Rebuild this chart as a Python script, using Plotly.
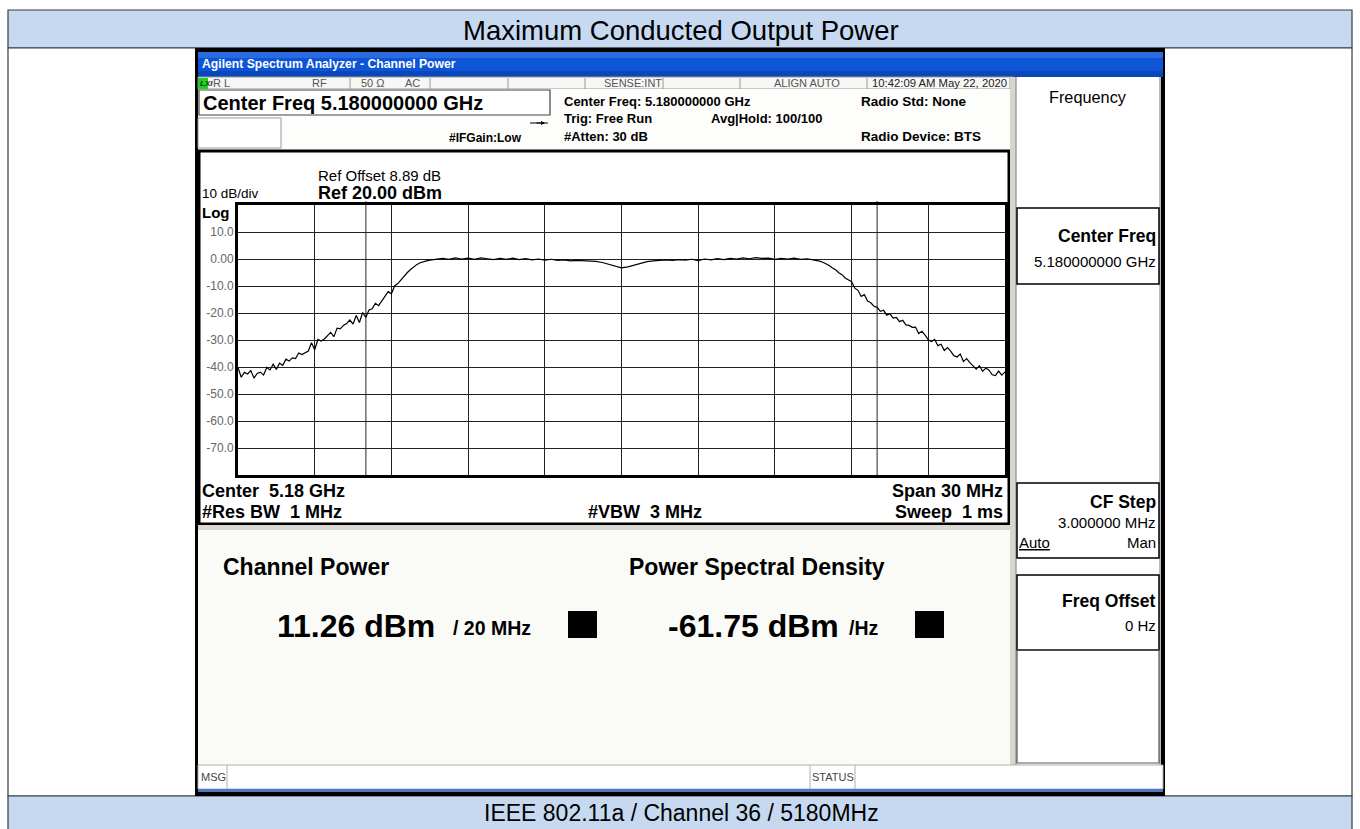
import plotly.graph_objects as go

# ---------------- data ----------------
SPAN_MHZ = 30.0
# left skirt (0.125 MHz steps), occupied band (0.25 MHz steps), right skirt (0.125 MHz steps)
freq_offset_mhz = [
    -15.000, -14.875, -14.750, -14.625, -14.500, -14.375, -14.250, -14.125, -14.000, -13.875,
    -13.750, -13.625, -13.500, -13.375, -13.250, -13.125, -13.000, -12.875, -12.750, -12.625,
    -12.500, -12.375, -12.250, -12.125, -12.000, -11.875, -11.750, -11.625, -11.500, -11.375,
    -11.250, -11.125, -11.000, -10.875, -10.750, -10.625, -10.500, -10.375, -10.250, -10.125,
    -10.000, -9.875, -9.750, -9.625, -9.500, -9.375, -9.250, -9.125, -9.000, -8.875,
    -8.750, -8.625, -8.500, -8.375, -8.250, -8.125, -8.000, -7.875, -7.750, -7.625,
    -7.500,
    -7.25, -7.00, -6.75, -6.50, -6.25, -6.00, -5.75, -5.50, -5.25, -5.00,
    -4.75, -4.50, -4.25, -4.00, -3.75, -3.50, -3.25, -3.00, -2.75, -2.50,
    -2.25, -2.00, -1.75, -1.50, -1.25, -1.00, -0.75, -0.50, -0.25, 0.00,
    0.25, 0.50, 0.75, 1.00, 1.25, 1.50, 1.75, 2.00, 2.25, 2.50,
    2.75, 3.00, 3.25, 3.50, 3.75, 4.00, 4.25, 4.50, 4.75, 5.00,
    5.25, 5.50, 5.75, 6.00, 6.25, 6.50, 6.75, 7.00, 7.25,
    7.500, 7.625, 7.750, 7.875, 8.000, 8.125, 8.250, 8.375, 8.500, 8.625,
    8.750, 8.875, 9.000, 9.125, 9.250, 9.375, 9.500, 9.625, 9.750, 9.875,
    10.000, 10.125, 10.250, 10.375, 10.500, 10.625, 10.750, 10.875, 11.000, 11.125,
    11.250, 11.375, 11.500, 11.625, 11.750, 11.875, 12.000, 12.125, 12.250, 12.375,
    12.500, 12.625, 12.750, 12.875, 13.000, 13.125, 13.250, 13.375, 13.500, 13.625,
    13.750, 13.875, 14.000, 14.125, 14.250, 14.375, 14.500, 14.625, 14.750, 14.875,
    15.000,
]
level_dbm = [
    -40.2, -43.8, -42.0, -42.6, -41.3, -44.1, -42.4, -41.9, -43.0, -40.2,
    -41.1, -39.0, -40.9, -38.6, -39.4, -37.1, -37.8, -36.6, -36.9, -34.8,
    -35.4, -34.9, -34.1, -31.0, -33.6, -29.8, -30.4, -29.6, -28.4, -27.2,
    -28.8, -25.6, -25.9, -24.6, -23.9, -22.6, -24.1, -20.9, -23.5, -19.8,
    -21.6, -18.9, -18.4, -16.4, -17.3, -15.6, -14.2, -12.1, -12.9, -10.0,
    -9.1, -7.6, -6.4, -5.0, -3.9, -2.8, -2.0, -1.4, -0.9, -0.7,
    -0.4,
    -0.2, 0.2, -0.1, 0.4, 0.0, 0.3, -0.1, 0.4, 0.1, -0.2,
    0.2, -0.1, 0.3, -0.2, 0.1, -0.3, 0.0, -0.4, -0.1, -0.5,
    -0.3, -0.7, -0.5, -0.6, -0.8, -0.9, -1.3, -2.0, -2.8, -3.3,
    -2.9, -2.2, -1.5, -1.0, -0.7, -0.6, -0.3, -0.5, -0.2, -0.4,
    -0.1, -0.6, 0.0, -0.3, 0.1, -0.2, 0.2, 0.0, 0.4, 0.1,
    0.5, 0.2, 0.3, -0.1, 0.2, 0.0, 0.3, -0.1, 0.1,
    -0.3, -0.5, -0.8, -1.2, -1.7, -2.4, -3.3, -4.0, -5.1, -5.8,
    -7.0, -7.6, -8.4, -10.8, -11.6, -13.9, -13.2, -15.6, -16.2, -17.5,
    -17.9, -19.4, -19.0, -20.8, -20.3, -21.9, -21.6, -23.2, -22.7, -24.4,
    -24.6, -25.3, -25.2, -27.6, -26.8, -28.2, -29.9, -30.6, -29.8, -32.1,
    -31.6, -33.9, -32.8, -34.1, -35.8, -36.3, -35.2, -38.0, -36.9, -38.4,
    -39.7, -40.8, -39.5, -41.6, -40.4, -41.2, -42.9, -43.2, -41.5, -43.0,
    -41.8,
]
x_grid_ticks = [-15, -12, -9, -6, -3, 0, 3, 6, 9, 12, 15]
y_tick_vals = [10, 0, -10, -20, -30, -40, -50, -60, -70]
y_tick_text = ["10.0", "0.00", "-10.0", "-20.0", "-30.0", "-40.0", "-50.0", "-60.0", "-70.0"]
channel_edges_mhz = [-10, 10]
REF_LEVEL = 20
BOTTOM_LEVEL = -80

# ---------------- helpers ----------------
W, H = 1360, 829
FONT = "Liberation Sans, Arial, sans-serif"


def X(px):
    return px / W


def Y(py):
    return 1 - py / H


shapes = []
annots = []


def rect(x0, y0, x1, y1, fill=None, line=None, lw=0, layer="below"):
    shapes.append(dict(type="rect", xref="paper", yref="paper",
                       x0=X(x0), x1=X(x1), y0=Y(y1), y1=Y(y0),
                       fillcolor=fill if fill else "rgba(0,0,0,0)",
                       line=dict(color=line if line else "rgba(0,0,0,0)", width=lw),
                       layer=layer))


def line(x0, y0, x1, y1, color="black", lw=1, layer="below"):
    shapes.append(dict(type="line", xref="paper", yref="paper",
                       x0=X(x0), x1=X(x1), y0=Y(y0), y1=Y(y1),
                       line=dict(color=color, width=lw), layer=layer))


def text(x, y, s, size, color="black", bold=False, anchor="left", family=FONT):
    if bold:
        s = "<b>" + s + "</b>"
    annots.append(dict(x=X(x), y=Y(y), xref="paper", yref="paper", text=s,
                       showarrow=False, xanchor=anchor, yanchor="middle",
                       font=dict(size=size, color=color, family=family),
                       borderpad=0))


# ---------------- outer report table ----------------
BAND = "#c6d9f1"
rect(8, 10, 1352, 48, fill=BAND, line="#3a3a3a", lw=1.2)
rect(8, 48, 1352, 796, fill="white", line="#3a3a3a", lw=1.2)
rect(8, 796, 1352, 840, fill=BAND, line="#3a3a3a", lw=1.2)
text(681, 30, "Maximum Conducted Output Power", 27.5, anchor="center")
text(681, 813, "IEEE 802.11a / Channel 36 / 5180MHz", 23, anchor="center")

# ---------------- analyzer frame ----------------
rect(195, 48, 1165, 796, fill="black")
rect(198, 52, 1163, 77, fill="#0d55d6")
rect(198, 52, 1163, 58, fill="#2a6be0")
rect(198, 71, 1163, 77, fill="#0a47b8")
text(201, 64, "Agilent Spectrum Analyzer - Channel Power", 12.2, color="white", bold=True)

# status row
rect(198, 77, 1013, 89, fill="#f7f7f5", line="#9a9a9a", lw=1)
rect(198, 78, 208, 89, fill="#22cc22")
text(198.5, 83.5, "<i>LXI</i>", 8, color="#113311", bold=True)
for sx in [350, 430, 508, 585, 663, 740, 867, 1010]:
    line(sx, 78, sx, 89, color="#9a9a9a", lw=1)
text(212, 83.5, "R L", 11, color="#555")
text(311, 83.5, "RF", 11, color="#555")
text(360, 83.5, "50 Ω", 11, color="#555")
text(404, 83.5, "AC", 11, color="#555")
text(603, 83.5, "SENSE:INT", 11, color="#555")
text(807, 83.5, "ALIGN AUTO", 11, color="#555", anchor="center")
text(871, 83.5, "10:42:09 AM May 22, 2020", 11.3, color="#222")

# header info area
rect(198, 89, 1013, 150, fill="#fdfdfb")
rect(199, 90, 550, 115, fill="white", line="#444", lw=1.2)
text(202, 103, "Center Freq 5.180000000 GHz", 20, bold=True)
rect(198, 118, 281, 148, fill="white", line="#999", lw=1)
text(448, 138, "#IFGain:Low", 12, bold=True)
line(530, 123, 548, 123, lw=1)
annots.append(dict(x=X(545), y=Y(123), ax=-10, ay=0, xref="paper", yref="paper",
                   axref="pixel", ayref="pixel", showarrow=True, arrowhead=2,
                   arrowsize=0.8, arrowwidth=1, arrowcolor="black", text=""))
text(563, 101, "Center Freq: 5.180000000 GHz", 13, bold=True)
text(563, 118, "Trig: Free Run", 13, bold=True)
text(710, 118, "Avg|Hold: 100/100", 13, bold=True)
text(563, 136, "#Atten: 30 dB", 13, bold=True)
text(860, 101, "Radio Std: None", 13.5, bold=True)
text(860, 136, "Radio Device: BTS", 13.5, bold=True)

# plot panel
rect(198, 150, 1010, 525, fill="white")
rect(199, 151, 1009, 524, line="black", lw=3)
text(317, 175, "Ref Offset 8.89 dB", 15)
text(317, 193, "Ref 20.00 dBm", 18, bold=True)
text(201, 194, "10 dB/div", 13.5)
text(201, 212, "Log", 15, bold=True)
text(201, 491, "Center  5.18 GHz", 18, bold=True)
text(201, 512, "#Res BW  1 MHz", 18, bold=True)
text(587, 512, "#VBW  3 MHz", 18, bold=True)
text(1004, 491, "Span 30 MHz", 18, bold=True, anchor="right")
text(1004, 512, "Sweep  1 ms", 18, bold=True, anchor="right")

# results area
rect(198, 525, 1013, 530, fill="#d9d9d1")
rect(198, 530, 1010, 765, fill="#fafaf6")
text(222, 567, "Channel Power", 23, bold=True)
text(628, 567, "Power Spectral Density", 23, bold=True)
text(276, 626, "11.26 dBm", 32, bold=True)
text(452, 628, "/ 20 MHz", 19.5, bold=True)
rect(568, 611, 597, 638, fill="black")
text(667, 626, "-61.75 dBm", 32, bold=True)
text(848, 628, "/Hz", 19.5, bold=True)
rect(915, 611, 944, 638, fill="black")

# softkey panel
rect(1010, 77, 1016, 765, fill="#d6d6cf")
rect(1016, 77, 1161, 765, fill="white")
line(1016, 77, 1016, 765, color="#8c8c8c", lw=1.2)
line(1160, 77, 1160, 765, color="#8c8c8c", lw=1.2)
text(1088, 97, "Frequency", 16.3, anchor="center")
rect(1017, 208, 1159, 284, line="black", lw=1.5)
text(1157, 236, "Center Freq", 17.5, bold=True, anchor="right")
text(1157, 261, "5.180000000 GHz", 15, anchor="right")
rect(1017, 483, 1159, 558, line="black", lw=1.5)
text(1157, 502, "CF Step", 17.5, bold=True, anchor="right")
text(1157, 522, "3.000000 MHz", 15, anchor="right")
text(1018, 542, "<u>Auto</u>", 15)
text(1157, 542, "Man", 15, anchor="right")
rect(1017, 575, 1159, 650, line="black", lw=1.5)
text(1157, 601, "Freq Offset", 17.5, bold=True, anchor="right")
text(1157, 625, "0 Hz", 15, anchor="right")
rect(1017, 650, 1159, 763, line="#555", lw=1.2)

# bottom status bar
rect(198, 765, 1163, 789, fill="white", line="#b0b0b0", lw=1)
line(227, 765, 227, 789, color="#b0b0b0")
line(810, 765, 810, 789, color="#b0b0b0")
line(855, 765, 855, 789, color="#b0b0b0")
text(200, 777, "MSG", 11, color="#444")
text(811, 777, "STATUS", 11, color="#444")
rect(198, 789, 1163, 792, fill="#4a7bc4")

# channel integration bandwidth markers (data x)
for f in channel_edges_mhz:
    shapes.append(dict(type="line", xref="x", yref="paper", x0=f, x1=f,
                       y0=Y(475), y1=Y(201), line=dict(color="#6f6f6f", width=1.5),
                       layer="between"))

# ---------------- figure ----------------
fig = go.Figure()
fig.add_trace(go.Scatter(x=freq_offset_mhz, y=level_dbm, mode="lines",
                         line=dict(color="black", width=1.2), hoverinfo="skip",
                         showlegend=False))

fig.update_layout(
    width=W, height=H, autosize=False,
    margin=dict(l=0, r=0, t=0, b=0, pad=0),
    paper_bgcolor="white", plot_bgcolor="rgba(0,0,0,0)",
    shapes=shapes, annotations=annots, showlegend=False,
    xaxis=dict(domain=[X(238), X(1005)], range=[-SPAN_MHZ / 2, SPAN_MHZ / 2],
               tickvals=x_grid_ticks, showticklabels=False, ticks="",
               showgrid=True, gridcolor="#222", gridwidth=1, zeroline=False,
               showline=True, linecolor="black", linewidth=3, mirror=True,
               fixedrange=True),
    yaxis=dict(domain=[Y(475), Y(205)], range=[BOTTOM_LEVEL, REF_LEVEL],
               tickvals=y_tick_vals, ticktext=y_tick_text, ticks="",
               tickfont=dict(size=12, color="#666", family=FONT),
               showgrid=True, gridcolor="#222", gridwidth=1, zeroline=False,
               showline=True, linecolor="black", linewidth=3, mirror=True,
               ticklabelstandoff=-1, fixedrange=True),
)

fig.write_html("out.html", config={"displayModeBar": False},
               post_script="document.body.style.margin='0';document.body.style.overflow='hidden';")
